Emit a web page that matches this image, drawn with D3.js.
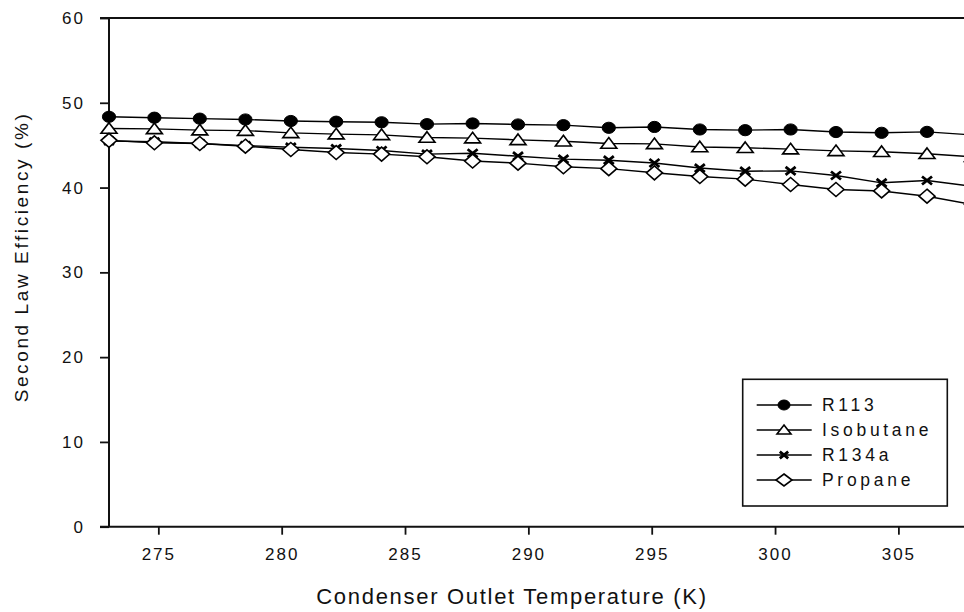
<!DOCTYPE html>
<html>
<head>
<meta charset="utf-8">
<script src="https://cdn.jsdelivr.net/npm/d3@7/dist/d3.min.js"></script>
<style>
  html, body { margin: 0; padding: 0; background: #fff; }
  svg { display: block; }
  text { font-family: "Liberation Sans", Arial, sans-serif; fill: #111; }
</style>
</head>
<body>
<svg id="chart" width="964" height="612"></svg>
<script>
// Condenser outlet temperature (K)
const temperatures = [273.0, 274.84, 276.68, 278.53, 280.37, 282.21, 284.05, 285.89, 287.74, 289.58,
                      291.42, 293.26, 295.11, 296.95, 298.79, 300.63, 302.47, 304.32, 306.16, 308.0];

// Second law efficiency (%) for each working fluid
const r113      = [48.35, 48.24, 48.13, 48.03, 47.85, 47.77, 47.70, 47.48, 47.56, 47.44,
                   47.36, 47.05, 47.15, 46.85, 46.77, 46.85, 46.55, 46.46, 46.57, 46.20];
const isobutane = [46.96, 46.92, 46.77, 46.72, 46.45, 46.30, 46.22, 45.90, 45.83, 45.63,
                   45.47, 45.20, 45.15, 44.78, 44.69, 44.53, 44.33, 44.22, 43.98, 43.63];
const r134a     = [45.50, 45.40, 45.20, 44.95, 44.76, 44.60, 44.37, 43.95, 44.05, 43.70,
                   43.35, 43.23, 42.90, 42.30, 41.93, 41.97, 41.42, 40.56, 40.83, 40.14];
const propane   = [45.57, 45.28, 45.20, 44.88, 44.49, 44.13, 43.95, 43.63, 43.13, 42.88,
                   42.45, 42.23, 41.74, 41.30, 40.99, 40.36, 39.77, 39.60, 38.98, 38.00];

const seriesNames = ["R113", "Isobutane", "R134a", "Propane"];
const seriesValues = [r113, isobutane, r134a, propane];
const markerKinds = ["dot", "triangle", "cross", "diamond"];

const xTicks = [275, 280, 285, 290, 295, 300, 305];
const yTicks = [0, 10, 20, 30, 40, 50, 60];

const xTitle = "Condenser Outlet Temperature (K)";
const yTitle = "Second Law Efficiency (%)";

// ---- layout ----
const svg = d3.select("#chart");
const plot = { left: 109, top: 18, bottom: 526.7 };

const x = d3.scaleLinear().domain([273, 308]).range([plot.left, 972.4]);
const y = d3.scaleLinear().domain([0, 60]).range([plot.bottom, plot.top]);

// ---- marker shapes (slightly wider than tall) ----
function markerPath(kind, w, h) {
  switch (kind) {
    case "triangle":
      return `M0,${-h * 0.62}L${w},${h * 0.5}L${-w},${h * 0.5}Z`;
    case "diamond":
      return `M0,${-h}L${w},0L0,${h}L${-w},0Z`;
    case "cross":
      return `M${-w},${-h}L${w},${h}M${-w},${h}L${w},${-h}`;
    default:
      return `M${-w},0A${w},${h} 0 1,0 ${w},0A${w},${h} 0 1,0 ${-w},0Z`;
  }
}
const markerSize = {
  dot: [6.6, 5.6],
  triangle: [8, 9.5],
  cross: [5, 4],
  diamond: [8, 7]
};
const legendMarkerSize = {
  dot: [6, 5],
  triangle: [7, 8],
  cross: [4.2, 3.4],
  diamond: [8, 6]
};
function styleMarker(sel, kind) {
  if (kind === "dot") sel.attr("fill", "#000").attr("stroke", "#000").attr("stroke-width", 1);
  else if (kind === "cross") sel.attr("fill", "none").attr("stroke", "#000").attr("stroke-width", 2.8);
  else sel.attr("fill", "#fff").attr("stroke", "#000").attr("stroke-width", 1.6);
}

// ---- axes ----
const axisColor = "#111";

const yAxis = svg.append("g")
  .attr("transform", `translate(${plot.left},0)`)
  .call(d3.axisLeft(y).tickValues(yTicks).tickSize(9).tickPadding(15).tickFormat(d3.format("d")));
yAxis.select(".domain").remove();
yAxis.selectAll(".tick line").attr("stroke", axisColor).attr("stroke-width", 1.8);
yAxis.selectAll(".tick text")
  .style("font-size", "17px").style("letter-spacing", "2px")
  .attr("fill", "#111").attr("font-family", null);

const xAxis = svg.append("g")
  .attr("transform", `translate(0,${plot.bottom})`)
  .call(d3.axisBottom(x).tickValues(xTicks).tickSize(8).tickPadding(13).tickFormat(d3.format("d")));
xAxis.select(".domain").remove();
xAxis.selectAll(".tick line").attr("stroke", axisColor).attr("stroke-width", 1.8);
xAxis.selectAll(".tick text")
  .style("font-size", "17px").style("letter-spacing", "2px")
  .attr("fill", "#111").attr("font-family", null);

// frame: left spine, bottom spine and top edge
svg.append("line")
  .attr("x1", plot.left).attr("x2", plot.left)
  .attr("y1", y(60)).attr("y2", y(0))
  .attr("stroke", axisColor).attr("stroke-width", 2);
svg.append("line")
  .attr("x1", plot.left - 9).attr("x2", x(308))
  .attr("y1", y(0)).attr("y2", y(0))
  .attr("stroke", axisColor).attr("stroke-width", 2);
svg.append("line")
  .attr("x1", plot.left - 9).attr("x2", x(308))
  .attr("y1", y(60)).attr("y2", y(60))
  .attr("stroke", axisColor).attr("stroke-width", 1.8);

// ---- series ----
const line = d3.line().x((d, i) => x(temperatures[i])).y(d => y(d));

seriesValues.forEach((vals, k) => {
  svg.append("path")
    .attr("d", line(vals))
    .attr("fill", "none")
    .attr("stroke", "#000")
    .attr("stroke-width", 1.4);
});

seriesValues.forEach((vals, k) => {
  const kind = markerKinds[k];
  const [w, h] = markerSize[kind];
  svg.append("g").selectAll("path")
    .data(vals)
    .join("path")
    .attr("transform", (d, i) => `translate(${x(temperatures[i])},${y(d)})`)
    .attr("d", markerPath(kind, w, h))
    .call(styleMarker, kind);
});

// ---- legend ----
const legend = svg.append("g");
legend.append("rect")
  .attr("x", 742.7).attr("y", 379.3)
  .attr("width", 204.6).attr("height", 126.7)
  .attr("fill", "#fff").attr("stroke", "#111").attr("stroke-width", 1.6);

seriesNames.forEach((name, k) => {
  const cy = 405 + k * 25;
  const kind = markerKinds[k];
  const [w, h] = legendMarkerSize[kind];
  legend.append("line")
    .attr("x1", 756.7).attr("x2", 811.7)
    .attr("y1", cy).attr("y2", cy)
    .attr("stroke", "#000").attr("stroke-width", 1.4);
  legend.append("path")
    .attr("transform", `translate(784,${cy})`)
    .attr("d", markerPath(kind, w, h))
    .call(styleMarker, kind);
  legend.append("text")
    .attr("x", 822).attr("y", cy)
    .attr("dy", "0.36em")
    .style("font-size", "17.5px").style("letter-spacing", "3.7px")
    .text(name);
});

// ---- axis titles ----
svg.append("text")
  .attr("x", 512).attr("y", 604)
  .attr("text-anchor", "middle")
  .style("font-size", "22px").style("letter-spacing", "1.7px")
  .text(xTitle);

svg.append("text")
  .attr("transform", "translate(28,257) rotate(-90)")
  .attr("text-anchor", "middle")
  .style("font-size", "19px").style("letter-spacing", "2.6px")
  .text(yTitle);
</script>
</body>
</html>
